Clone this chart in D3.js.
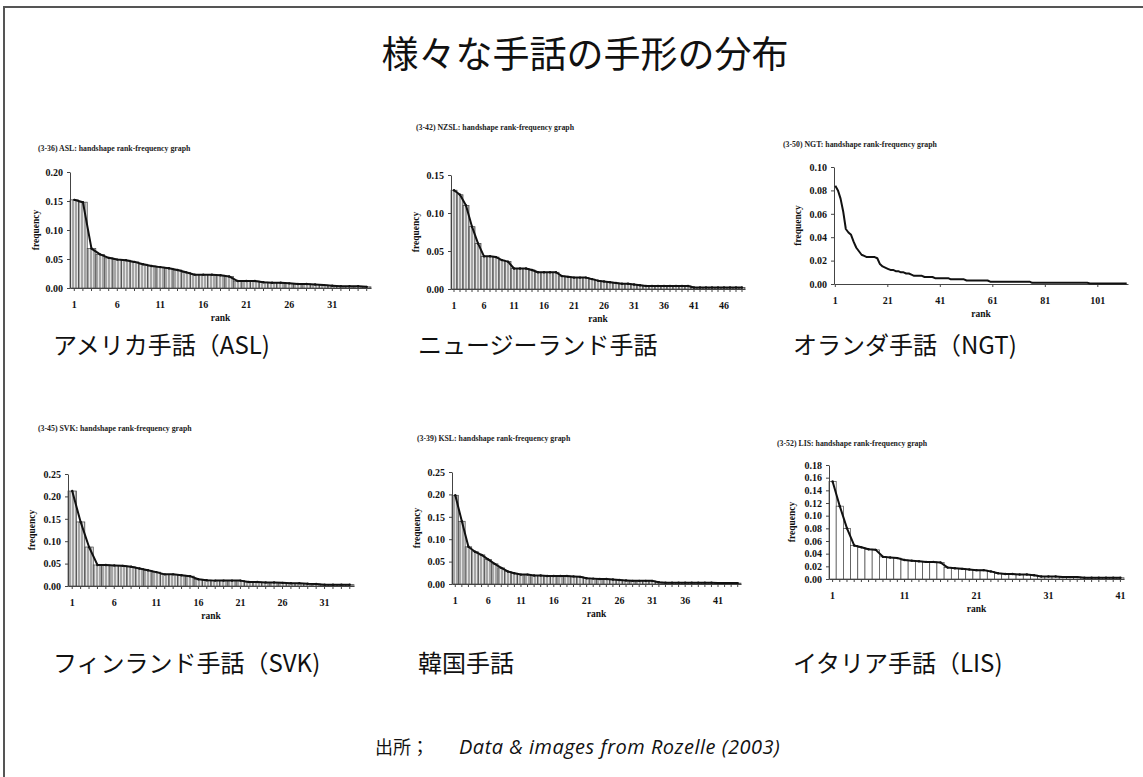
<!DOCTYPE html>
<html>
<head>
<meta charset="utf-8">
<script src="https://cdn.jsdelivr.net/npm/d3@7"></script>
<style>
  body { margin: 0; background: #fff; }
  .hdr { font-family: "Liberation Serif", serif; font-weight: bold; font-size: 7.8px; fill: #222; }
  .axis text { font-family: "Liberation Serif", serif; font-weight: bold; font-size: 10px; fill: #111; }
  .axis path, .axis line { stroke: #444; }
  .albl { font-family: "Liberation Serif", serif; font-weight: bold; font-size: 9.5px; fill: #111; }
  .jp { font-family: "Noto Sans CJK JP", sans-serif; fill: #111; }
</style>
</head>
<body>
<svg id="chart" width="1143" height="777"></svg>
<script>
const aslFreq = [0.152, 0.148, 0.068, 0.058, 0.052, 0.049, 0.048, 0.045, 0.041, 0.038,
  0.036, 0.034, 0.031, 0.027, 0.023, 0.023, 0.023, 0.022, 0.020, 0.012,
  0.012, 0.012, 0.010, 0.009, 0.009, 0.008, 0.007, 0.007, 0.006, 0.005,
  0.004, 0.003, 0.003, 0.003, 0.002];
const nzslFreq = [0.130, 0.124, 0.110, 0.082, 0.060, 0.043, 0.043, 0.042, 0.038, 0.036,
  0.027, 0.027, 0.027, 0.025, 0.022, 0.022, 0.022, 0.022, 0.017, 0.016,
  0.015, 0.015, 0.015, 0.013, 0.011, 0.010, 0.009, 0.008, 0.007, 0.007,
  0.006, 0.005, 0.004, 0.004, 0.004, 0.004, 0.004, 0.004, 0.004, 0.004,
  0.002, 0.002, 0.002, 0.002, 0.002, 0.002, 0.002, 0.002, 0.002];
const ngtFreq = [0.084, 0.080, 0.073, 0.062, 0.047, 0.044, 0.042, 0.036, 0.031, 0.028,
  0.025, 0.024, 0.023, 0.023, 0.023, 0.023, 0.022, 0.017, 0.015, 0.014,
  0.013, 0.012, 0.012, 0.011, 0.011, 0.010, 0.010, 0.009, 0.009, 0.008,
  0.007, 0.007, 0.007, 0.007, 0.006, 0.006, 0.006, 0.006, 0.005, 0.005,
  0.005, 0.005, 0.005, 0.005, 0.004, 0.004, 0.004, 0.004, 0.004, 0.004,
  0.003, 0.003, 0.003, 0.003, 0.003, 0.003, 0.003, 0.003, 0.003, 0.002,
  0.002, 0.002, 0.002, 0.002, 0.002, 0.002, 0.002, 0.002, 0.002, 0.002,
  0.002, 0.002, 0.002, 0.002, 0.002, 0.001, 0.001, 0.001, 0.001, 0.001,
  0.001, 0.001, 0.001, 0.001, 0.001, 0.001, 0.001, 0.001, 0.001, 0.001,
  0.001, 0.001, 0.001, 0.001, 0.001, 0.001, 0.001, 0.0005, 0.0005, 0.0005,
  0.0005, 0.0005, 0.0005, 0.0005, 0.0005, 0.0005, 0.0005, 0.0005, 0.0005, 0.0005,
  0.0005, 0.0005];
const svkFreq = [0.212, 0.143, 0.087, 0.047, 0.047, 0.046, 0.045, 0.043, 0.039, 0.035,
  0.031, 0.026, 0.026, 0.024, 0.022, 0.015, 0.013, 0.012, 0.012, 0.012,
  0.012, 0.009, 0.009, 0.008, 0.008, 0.007, 0.006, 0.006, 0.005, 0.0045,
  0.003, 0.003, 0.003, 0.003];
const kslFreq = [0.198, 0.140, 0.083, 0.072, 0.065, 0.055, 0.045, 0.036, 0.028, 0.024,
  0.021, 0.021, 0.019, 0.019, 0.018, 0.018, 0.018, 0.018, 0.017, 0.016,
  0.013, 0.012, 0.011, 0.011, 0.010, 0.009, 0.008, 0.007, 0.007, 0.007,
  0.007, 0.004, 0.003, 0.003, 0.003, 0.003, 0.003, 0.003, 0.003, 0.003,
  0.002, 0.002, 0.002, 0.002];
const lisFreq = [0.154, 0.115, 0.080, 0.053, 0.050, 0.047, 0.046, 0.035, 0.034, 0.033,
  0.030, 0.029, 0.028, 0.027, 0.027, 0.026, 0.018, 0.017, 0.016, 0.015,
  0.014, 0.014, 0.012, 0.009, 0.008, 0.008, 0.007, 0.007, 0.006, 0.004,
  0.004, 0.004, 0.003, 0.003, 0.003, 0.002, 0.002, 0.002, 0.002, 0.002,
  0.002];

// rank labels shown under each x axis
const aslXTicks = [1, 6, 11, 16, 21, 26, 31];
const nzslXTicks = [1, 6, 11, 16, 21, 26, 31, 36, 41, 46];
const ngtXTicks = [1, 21, 41, 61, 81, 101];
const svkXTicks = [1, 6, 11, 16, 21, 26, 31];
const kslXTicks = [1, 6, 11, 16, 21, 26, 31, 36, 41];
const lisXTicks = [1, 11, 21, 31, 41];

// frequency ticks
const aslYTicks = [0, 0.05, 0.10, 0.15, 0.20];
const nzslYTicks = [0, 0.05, 0.10, 0.15];
const ngtYTicks = [0, 0.02, 0.04, 0.06, 0.08, 0.10];
const svkYTicks = [0, 0.05, 0.10, 0.15, 0.20, 0.25];
const kslYTicks = [0, 0.05, 0.10, 0.15, 0.20, 0.25];
const lisYTicks = [0, 0.02, 0.04, 0.06, 0.08, 0.10, 0.12, 0.14, 0.16, 0.18];

const svg = d3.select("#chart");

// hatched grey fill used by the scanned bar charts
const defs = svg.append("defs");
const hatch = defs.append("pattern")
    .attr("id", "hatch")
    .attr("patternUnits", "userSpaceOnUse")
    .attr("width", 3).attr("height", 4);
hatch.append("rect").attr("width", 3).attr("height", 4).attr("fill", "#a6a6a6");
hatch.append("rect").attr("x", 2).attr("width", 1).attr("height", 4).attr("fill", "#e4e4e4");

// slide frame
svg.append("rect")
    .attr("x", 4).attr("y", 7)
    .attr("width", 1160).attr("height", 800)
    .attr("fill", "none")
    .attr("stroke", "#555")
    .attr("stroke-width", 2);

svg.append("text")
    .attr("class", "jp")
    .attr("x", 585).attr("y", 68)
    .attr("text-anchor", "middle")
    .style("font-size", "37px")
    .text("様々な手話の手形の分布");

const panels = [
  {code: "(3-36)", name: "ASL", freq: aslFreq, xTicks: aslXTicks, yTicks: aslYTicks, yMax: 0.20,
   x0: 70, x1: 371, yTop: 172, yBot: 288, hx: 38, hy: 151, fill: "url(#hatch)", markers: true,
   label: "アメリカ手話（ASL)", lx: 53, ly: 354, fOff: 34},
  {code: "(3-42)", name: "NZSL", freq: nzslFreq, xTicks: nzslXTicks, yTicks: nzslYTicks, yMax: 0.15,
   x0: 451, x1: 745, yTop: 175, yBot: 289, hx: 416, hy: 130, fill: "url(#hatch)", markers: true,
   label: "ニュージーランド手話", lx: 418, ly: 354, fOff: 35},
  {code: "(3-50)", name: "NGT", freq: ngtFreq, xTicks: ngtXTicks, yTicks: ngtYTicks, yMax: 0.10,
   x0: 834, x1: 1128, yTop: 167, yBot: 284, hx: 783, hy: 147, fill: null, markers: false,
   label: "オランダ手話（NGT)", lx: 793, ly: 354, fOff: 36},
  {code: "(3-45)", name: "SVK", freq: svkFreq, xTicks: svkXTicks, yTicks: svkYTicks, yMax: 0.25,
   x0: 68, x1: 354, yTop: 474, yBot: 586, hx: 38, hy: 431, fill: "url(#hatch)", markers: true,
   label: "フィンランド手話（SVK)", lx: 53, ly: 672, fOff: 36},
  {code: "(3-39)", name: "KSL", freq: kslFreq, xTicks: kslXTicks, yTicks: kslYTicks, yMax: 0.25,
   x0: 452, x1: 741, yTop: 472, yBot: 584, hx: 417, hy: 441, fill: "url(#hatch)", markers: true,
   label: "韓国手話", lx: 418, ly: 672, fOff: 35},
  {code: "(3-52)", name: "LIS", freq: lisFreq, xTicks: lisXTicks, yTicks: lisYTicks, yMax: 0.18,
   x0: 829, x1: 1124, yTop: 465, yBot: 579, hx: 777, hy: 446, fill: "#fff", markers: true,
   label: "イタリア手話（LIS)", lx: 793, ly: 672, fOff: 37}
];

panels.forEach(drawPanel);

function drawPanel(p) {
  const ranks = d3.range(1, p.freq.length + 1);
  const x = d3.scaleBand().domain(ranks).range([p.x0, p.x1]);
  const y = d3.scaleLinear().domain([0, p.yMax]).range([p.yBot, p.yTop]);
  const cx = (d, i) => x(ranks[i]) + x.bandwidth() / 2;
  const g = svg.append("g");

  g.append("text")
      .attr("class", "hdr")
      .attr("x", p.hx).attr("y", p.hy)
      .text(`${p.code}  ${p.name}: handshape rank-frequency graph`);

  if (p.fill) {
    g.append("g").selectAll("rect")
        .data(p.freq)
        .join("rect")
        .attr("x", (d, i) => x(ranks[i]))
        .attr("y", d => y(d))
        .attr("width", x.bandwidth())
        .attr("height", d => y(0) - y(d))
        .attr("fill", p.fill)
        .attr("stroke", "#444")
        .attr("stroke-width", 0.7);
  }

  g.append("g")
      .attr("class", "axis")
      .attr("transform", `translate(${p.x0},0)`)
      .call(d3.axisLeft(y).tickValues(p.yTicks).tickFormat(d3.format(".2f"))
          .tickSize(3).tickSizeOuter(0).tickPadding(4))
      .attr("font-family", null).attr("font-size", null);

  g.append("g")
      .attr("class", "axis")
      .attr("transform", `translate(0,${p.yBot})`)
      .call(d3.axisBottom(x).tickValues(p.markers ? ranks : p.xTicks)
          .tickFormat(d => p.xTicks.includes(d) ? d : "")
          .tickSize(3).tickSizeOuter(0).tickPadding(10))
      .attr("font-family", null).attr("font-size", null);

  const line = d3.line().x(cx).y(d => y(d));
  g.append("path")
      .datum(p.freq)
      .attr("d", line)
      .attr("fill", "none")
      .attr("stroke", "#111")
      .attr("stroke-width", 2)
      .attr("stroke-linejoin", "round");

  if (p.markers) {
    g.append("g").selectAll("circle")
        .data(p.freq)
        .join("circle")
        .attr("cx", cx)
        .attr("cy", d => y(d))
        .attr("r", 1.2)
        .attr("fill", "#111");
  }

  g.append("text")
      .attr("class", "albl")
      .attr("transform", `translate(${p.x0 - p.fOff},${(p.yTop + p.yBot) / 2}) rotate(-90)`)
      .attr("text-anchor", "middle")
      .attr("dy", "0.35em")
      .text("frequency");

  g.append("text")
      .attr("class", "albl")
      .attr("x", (p.x0 + p.x1) / 2)
      .attr("y", p.yBot + 33)
      .attr("text-anchor", "middle")
      .text("rank");

  g.append("text")
      .attr("class", "jp")
      .attr("x", p.lx).attr("y", p.ly)
      .style("font-size", "24px")
      .text(p.label);
}

const src = svg.append("text")
    .attr("x", 375).attr("y", 754)
    .style("font-size", "18px");
src.append("tspan")
    .attr("class", "jp")
    .text("出所；");
src.append("tspan")
    .attr("dx", 30)
    .style("font-family", "'Open Sans', sans-serif")
    .style("font-style", "italic")
    .style("font-size", "20px")
    .style("letter-spacing", "0.5px")
    .attr("fill", "#111")
    .text("Data & images from Rozelle (2003)");
</script>
</body>
</html>
